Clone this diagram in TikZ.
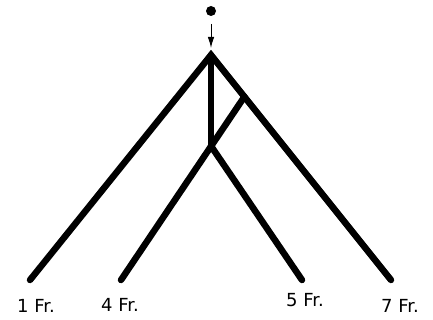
\documentclass[tikz,border=0pt]{standalone}
\usepackage{fontspec}
\setsansfont{DejaVu Sans}
\usetikzlibrary{arrows.meta,positioning}
\tikzset{
  branch/.style={line width=6.5pt,line cap=round,miter limit=10},
  frlabel/.style={font=\sffamily\fontsize{18}{20}\selectfont,inner sep=0pt},
  pointer/.style={line width=1pt,-{Latex[length=11pt,width=6.5pt]}}
}
\begin{document}
\begin{tikzpicture}[x=1pt,y=-1pt]
  \useasboundingbox (0,0) rectangle (433,320);
  % start point
  \fill (211,11) circle (5);
  \coordinate (src) at (211,24);
  \coordinate (root) at (211,55);
  \coordinate (tip) at (211,48);
  \draw[pointer] (src) -- (tip);
  % tree
  \coordinate (split) at (211,146);
  \coordinate (join) at (244.4,96.7);
  \coordinate (e1) at (30,280);
  \coordinate (e4) at (121,280);
  \coordinate (e5) at (302,280);
  \coordinate (e7) at (391,280);
  \draw[branch] (e1) -- (root) -- (e7);
  \draw[branch] (root) -- (split);
  \draw[branch] (e4) -- (join);
  \draw[branch] (split) -- (e5);
  % fractions
  \node[frlabel] (l1) at (36,306) {1 Fr.};
  \node[frlabel] (l4) at (120,305) {4 Fr.};
  \node[frlabel] (l5) at (305,300) {5 Fr.};
  \node[frlabel] (l7) at (400,306) {7 Fr.};
\end{tikzpicture}
\end{document}
